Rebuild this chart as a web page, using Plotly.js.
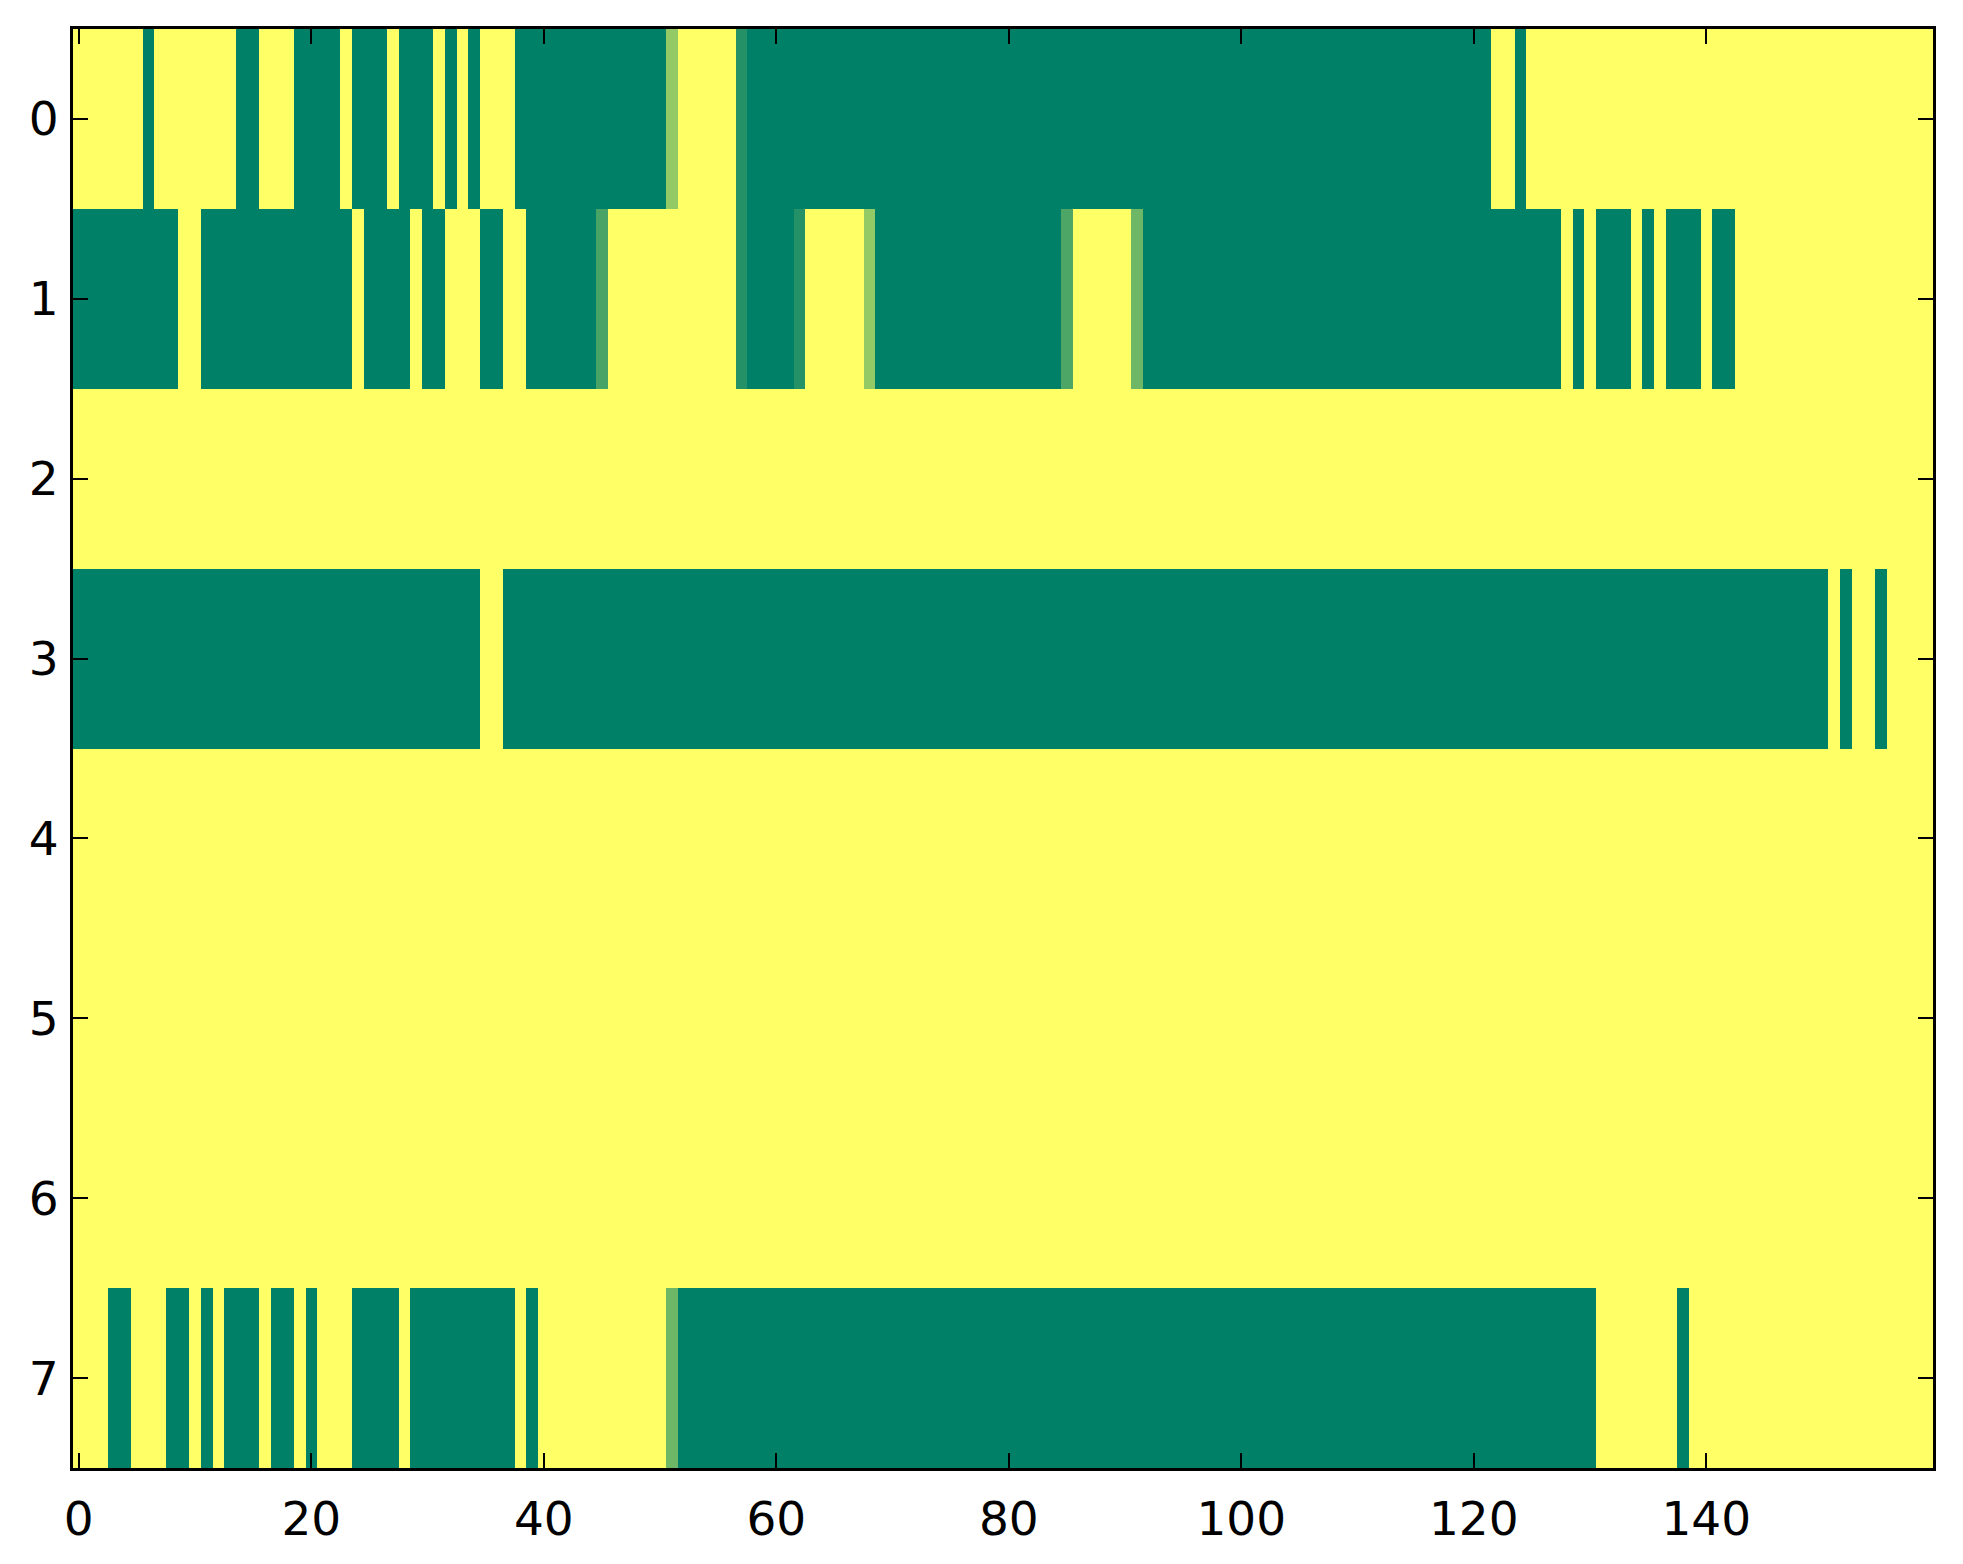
<!DOCTYPE html>
<html>
<head>
<meta charset="utf-8">
<script src="https://cdn.plot.ly/plotly-3.0.1.min.js"></script>
<style>
  html, body { margin: 0; padding: 0; background: #ffffff; }
  #chart { width: 1963px; height: 1564px; }
</style>
</head>
<body>
<div id="chart"></div>
<script>
// Row labels (y categories) and x tick labels
const rowLabels = [0, 1, 2, 3, 4, 5, 6, 7];
const xTickVals = [0, 20, 40, 60, 80, 100, 120, 140];
const yTickVals = [0, 1, 2, 3, 4, 5, 6, 7];

// Cell values per row (160 columns each)
const row0 = [
  1,1,1,1,1,1,0,1,1,1,
  1,1,1,1,0,0,1,1,1,0,
  0,0,0,1,0,0,0,1,0,0,
  0,1,0,1,0,1,1,1,0,0,
  0,0,0,0,0,0,0,0,0,0,
  0,0.58,1,1,1,1,1,0.14,0,0,
  0,0,0,0,0,0,0,0,0,0,
  0,0,0,0,0,0,0,0,0,0,
  0,0,0,0,0,0,0,0,0,0,
  0,0,0,0,0,0,0,0,0,0,
  0,0,0,0,0,0,0,0,0,0,
  0,0,0,0,0,0,0,0,0,0,
  0,0,1,1,0,1,1,1,1,1,
  1,1,1,1,1,1,1,1,1,1,
  1,1,1,1,1,1,1,1,1,1,
  1,1,1,1,1,1,1,1,1,1
];
const row1 = [
  0,0,0,0,0,0,0,0,0,1,
  1,0,0,0,0,0,0,0,0,0,
  0,0,0,0,1,0,0,0,0,1,
  0,0,1,1,1,0,0,1,1,0,
  0,0,0,0,0,0.28,1,1,1,1,
  1,1,1,1,1,1,1,0.14,0,0,
  0,0,0.14,1,1,1,1,1,0.58,0,
  0,0,0,0,0,0,0,0,0,0,
  0,0,0,0,0,0.3,1,1,1,1,
  1,0.43,0,0,0,0,0,0,0,0,
  0,0,0,0,0,0,0,0,0,0,
  0,0,0,0,0,0,0,0,0,0,
  0,0,0,0,0,0,0,0,1,0,
  1,0,0,0,1,0,1,0,0,0,
  1,0,0,1,1,1,1,1,1,1,
  1,1,1,1,1,1,1,1,1,1
];
const row2 = [
  1,1,1,1,1,1,1,1,1,1, 1,1,1,1,1,1,1,1,1,1,
  1,1,1,1,1,1,1,1,1,1, 1,1,1,1,1,1,1,1,1,1,
  1,1,1,1,1,1,1,1,1,1, 1,1,1,1,1,1,1,1,1,1,
  1,1,1,1,1,1,1,1,1,1, 1,1,1,1,1,1,1,1,1,1,
  1,1,1,1,1,1,1,1,1,1, 1,1,1,1,1,1,1,1,1,1,
  1,1,1,1,1,1,1,1,1,1, 1,1,1,1,1,1,1,1,1,1,
  1,1,1,1,1,1,1,1,1,1, 1,1,1,1,1,1,1,1,1,1,
  1,1,1,1,1,1,1,1,1,1, 1,1,1,1,1,1,1,1,1,1
];
const row3 = [
  0,0,0,0,0,0,0,0,0,0,
  0,0,0,0,0,0,0,0,0,0,
  0,0,0,0,0,0,0,0,0,0,
  0,0,0,0,0,1,1,0,0,0,
  0,0,0,0,0,0,0,0,0,0,
  0,0,0,0,0,0,0,0,0,0,
  0,0,0,0,0,0,0,0,0,0,
  0,0,0,0,0,0,0,0,0,0,
  0,0,0,0,0,0,0,0,0,0,
  0,0,0,0,0,0,0,0,0,0,
  0,0,0,0,0,0,0,0,0,0,
  0,0,0,0,0,0,0,0,0,0,
  0,0,0,0,0,0,0,0,0,0,
  0,0,0,0,0,0,0,0,0,0,
  0,0,0,0,0,0,0,0,0,0,
  0,1,0,1,1,0,1,1,1,1
];
const row4 = [
  1,1,1,1,1,1,1,1,1,1, 1,1,1,1,1,1,1,1,1,1,
  1,1,1,1,1,1,1,1,1,1, 1,1,1,1,1,1,1,1,1,1,
  1,1,1,1,1,1,1,1,1,1, 1,1,1,1,1,1,1,1,1,1,
  1,1,1,1,1,1,1,1,1,1, 1,1,1,1,1,1,1,1,1,1,
  1,1,1,1,1,1,1,1,1,1, 1,1,1,1,1,1,1,1,1,1,
  1,1,1,1,1,1,1,1,1,1, 1,1,1,1,1,1,1,1,1,1,
  1,1,1,1,1,1,1,1,1,1, 1,1,1,1,1,1,1,1,1,1,
  1,1,1,1,1,1,1,1,1,1, 1,1,1,1,1,1,1,1,1,1
];
const row5 = [
  1,1,1,1,1,1,1,1,1,1, 1,1,1,1,1,1,1,1,1,1,
  1,1,1,1,1,1,1,1,1,1, 1,1,1,1,1,1,1,1,1,1,
  1,1,1,1,1,1,1,1,1,1, 1,1,1,1,1,1,1,1,1,1,
  1,1,1,1,1,1,1,1,1,1, 1,1,1,1,1,1,1,1,1,1,
  1,1,1,1,1,1,1,1,1,1, 1,1,1,1,1,1,1,1,1,1,
  1,1,1,1,1,1,1,1,1,1, 1,1,1,1,1,1,1,1,1,1,
  1,1,1,1,1,1,1,1,1,1, 1,1,1,1,1,1,1,1,1,1,
  1,1,1,1,1,1,1,1,1,1, 1,1,1,1,1,1,1,1,1,1
];
const row6 = [
  1,1,1,1,1,1,1,1,1,1, 1,1,1,1,1,1,1,1,1,1,
  1,1,1,1,1,1,1,1,1,1, 1,1,1,1,1,1,1,1,1,1,
  1,1,1,1,1,1,1,1,1,1, 1,1,1,1,1,1,1,1,1,1,
  1,1,1,1,1,1,1,1,1,1, 1,1,1,1,1,1,1,1,1,1,
  1,1,1,1,1,1,1,1,1,1, 1,1,1,1,1,1,1,1,1,1,
  1,1,1,1,1,1,1,1,1,1, 1,1,1,1,1,1,1,1,1,1,
  1,1,1,1,1,1,1,1,1,1, 1,1,1,1,1,1,1,1,1,1,
  1,1,1,1,1,1,1,1,1,1, 1,1,1,1,1,1,1,1,1,1
];
const row7 = [
  1,1,1,0,0,1,1,1,0,0,
  1,0,1,0,0,0,1,0,0,1,
  0,1,1,1,0,0,0,0,1,0,
  0,0,0,0,0,0,0,0,1,0,
  1,1,1,1,1,1,1,1,1,1,
  1,0.43,0,0,0,0,0,0,0,0,
  0,0,0,0,0,0,0,0,0,0,
  0,0,0,0,0,0,0,0,0,0,
  0,0,0,0,0,0,0,0,0,0,
  0,0,0,0,0,0,0,0,0,0,
  0,0,0,0,0,0,0,0,0,0,
  0,0,0,0,0,0,0,0,0,0,
  0,0,0,0,0,0,0,0,0,0,
  0,1,1,1,1,1,1,1,0,1,
  1,1,1,1,1,1,1,1,1,1,
  1,1,1,1,1,1,1,1,1,1
];

const zRows = [row0, row1, row2, row3, row4, row5, row6, row7];

// matplotlib "summer" colormap (linear RGB from green to yellow)
const summer = [[0, 'rgb(0,128,102)'], [1, 'rgb(255,255,102)']];

const trace = {
  type: 'heatmap',
  z: zRows,
  y: rowLabels,
  colorscale: summer,
  zmin: 0,
  zmax: 1,
  showscale: false,
  hoverinfo: 'skip',
  xgap: 0,
  ygap: 0
};

const nCols = row0.length;
const axisFont = { family: 'DejaVu Sans, sans-serif', size: 47, color: '#000000' };

const layout = {
  width: 1963,
  height: 1564,
  margin: { l: 73, r: 30, t: 29, b: 96, pad: 0 },
  paper_bgcolor: '#ffffff',
  plot_bgcolor: '#ffffff',
  font: axisFont,
  showlegend: false,
  xaxis: {
    range: [-0.5, nCols - 0.5],
    tickvals: xTickVals,
    ticktext: xTickVals.map(String),
    ticks: 'inside',
    ticklen: 15,
    tickwidth: 2,
    tickcolor: '#000000',
    showline: true,
    linewidth: 3,
    linecolor: '#000000',
    mirror: 'ticks',
    showgrid: false,
    zeroline: false,
    tickfont: axisFont,
    ticklabelstandoff: 8
  },
  yaxis: {
    range: [7.5, -0.5],
    tickvals: yTickVals,
    ticktext: yTickVals.map(String),
    ticks: 'inside',
    ticklen: 15,
    tickwidth: 2,
    tickcolor: '#000000',
    showline: true,
    linewidth: 3,
    linecolor: '#000000',
    mirror: 'ticks',
    showgrid: false,
    zeroline: false,
    tickfont: axisFont,
    ticklabelstandoff: 2
  }
};

Plotly.newPlot('chart', [trace], layout, { displayModeBar: false, staticPlot: true });
</script>
</body>
</html>
